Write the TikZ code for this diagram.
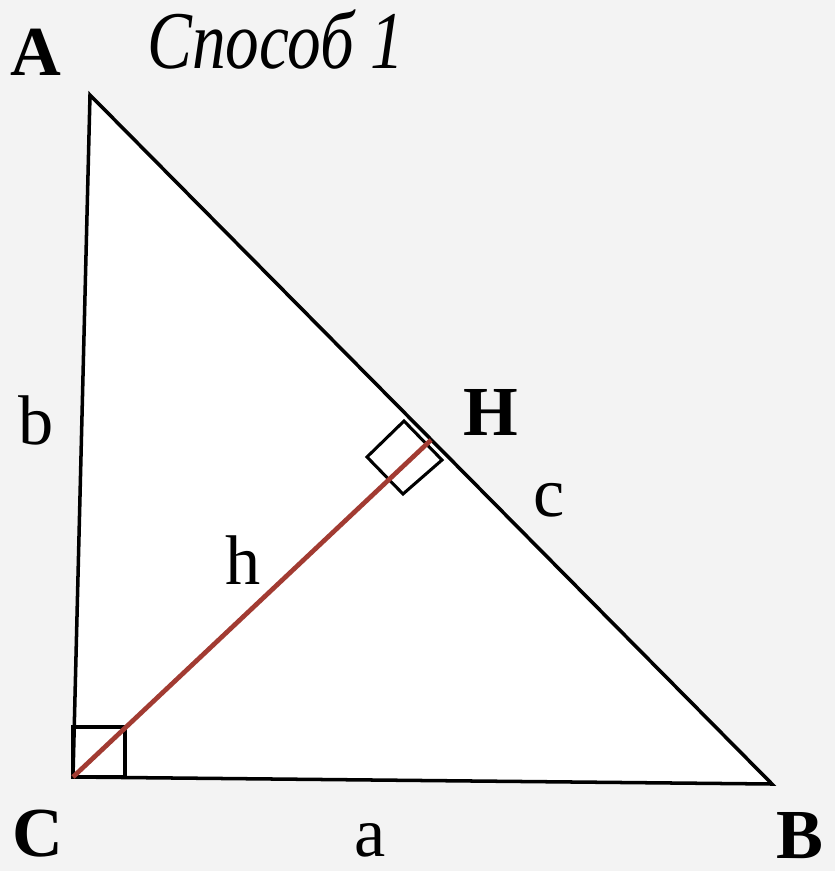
\documentclass[tikz,border=0pt]{standalone}
\usepackage{fontspec}
\setmainfont{Liberation Serif}
\definecolor{paper}{HTML}{F3F3F3}
\definecolor{heightred}{HTML}{A23B32}
\begin{document}
\begin{tikzpicture}[
    x=0.03cm,y=-0.03cm,
    side/.style={black,line width=3pt,line join=miter},
    rightmark/.style={black,line width=2.6pt},
    vert/.style={font=\fontsize{60}{66}\selectfont\bfseries,inner sep=0pt},
    len/.style={font=\fontsize{60}{66}\selectfont,inner sep=0pt}]
    \fill[paper] (0,0) rectangle (835,871);
    \useasboundingbox (0,0) rectangle (835,871);
    % vertices
    \coordinate (A) at (90,95);
    \coordinate (B) at (772,784);
    \coordinate (C) at (73,777);
    \coordinate (H) at (431,440);
    \fill[white] (A) -- (B) -- (C) -- cycle;
    % right angles
    \draw[rightmark] (73,727) rectangle (125,777);
    \draw[rightmark] (442,460) -- (404,421) -- (367,457) -- (403,494) -- cycle;
    \draw[side] (A) -- (B) -- (C) -- cycle;
    \draw[heightred,line width=4pt] (C) -- (H);
    % labels
    \node[font=\fontsize{70}{78}\selectfont\itshape] (title) at (276,40)
        {\scalebox{0.82}[1]{Способ 1}};
    \node[vert] (lA) at (36,52) {A};
    \node[vert] (lB) at (800,836) {B};
    \node[vert] (lC) at (38,834) {C};
    \node[vert] (lH) at (491,412) {H};
    \node[len] (la) at (370,840) {a};
    \node[len] (lb) at (36,420) {b};
    \node[len] (lc) at (549,500) {c};
    \node[len] (lh) at (243,560) {h};
\end{tikzpicture}
\end{document}
